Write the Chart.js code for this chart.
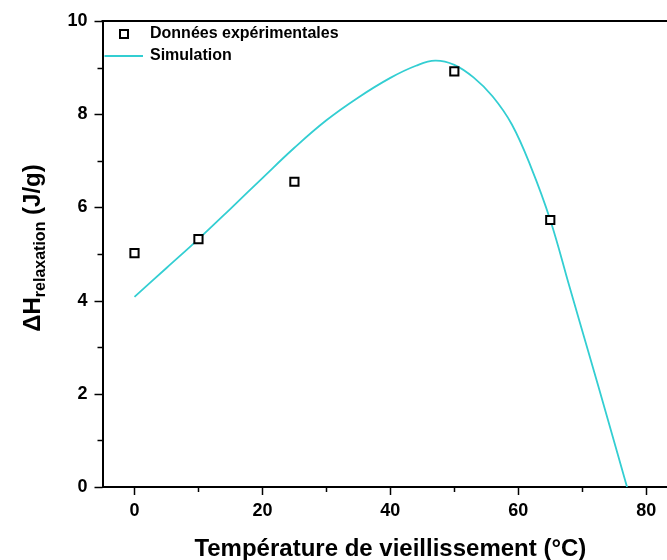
<!DOCTYPE html>
<html>
<head>
<meta charset="utf-8">
<script src="https://cdn.jsdelivr.net/npm/chart.js@4"></script>
<style>
  html, body { margin: 0; padding: 0; background: #fff; overflow: hidden; }
  #wrap { width: 686px; height: 560px; }
</style>
</head>
<body>
<div id="wrap"><canvas id="chart" width="686" height="560"></canvas></div>
<script>
// Données expérimentales
const expT = [0, 10, 25, 50, 65];
const expH = [5.02, 5.32, 6.55, 8.92, 5.73];

// Courbe de simulation
const simT = [0, 5, 10, 15, 20, 25, 30, 35, 40, 44, 47, 50, 53, 56, 59, 62, 65, 68, 71, 74, 77];
const simH = [4.08, 4.70, 5.32, 5.97, 6.63, 7.28, 7.87, 8.36, 8.78, 9.04, 9.15, 9.06, 8.79, 8.38, 7.78, 6.86, 5.73, 4.30, 2.88, 1.45, 0];

const xTicks = [0, 20, 40, 60, 80];
const yTicks = [0, 2, 4, 6, 8, 10];

const cyan = 'rgb(51, 206, 210)';
const fontFam = '"Liberation Sans", Arial, sans-serif';

const toPoints = (xs, ys) => xs.map((x, i) => ({ x: x, y: ys[i] }));

// petits traits de graduation, ligne du haut, légende et titre de l'axe y
const decor = {
  id: 'decor',
  afterDraw(chart) {
    const ctx = chart.ctx;
    const a = chart.chartArea;
    const xs = chart.scales.x, ys = chart.scales.y;
    ctx.save();
    ctx.strokeStyle = '#000';
    ctx.lineWidth = 2;
    // ligne du haut
    ctx.beginPath();
    ctx.moveTo(a.left - 1, a.top);
    ctx.lineTo(a.right + 2, a.top);
    ctx.stroke();
    // graduations x
    ctx.lineWidth = 1.5;
    for (let v = 0; v <= 80; v += 10) {
      const px = Math.round(xs.getPixelForValue(v)) + 0.5;
      const len = v % 20 === 0 ? 8 : 5;
      ctx.beginPath();
      ctx.moveTo(px, a.bottom);
      ctx.lineTo(px, a.bottom + len);
      ctx.stroke();
    }
    // graduations y
    for (let v = 0; v <= 10; v += 1) {
      const py = Math.round(ys.getPixelForValue(v)) + 0.5;
      const len = v % 2 === 0 ? 8 : 5;
      ctx.beginPath();
      ctx.moveTo(a.left, py);
      ctx.lineTo(a.left - len, py);
      ctx.stroke();
    }

    // légende
    const ds = chart.data.datasets;
    ctx.font = 'bold 16px ' + fontFam;
    ctx.textBaseline = 'middle';
    ctx.textAlign = 'left';
    ctx.lineWidth = 2;
    ctx.strokeStyle = '#000';
    ctx.fillStyle = '#fff';
    ctx.fillRect(120, 30, 8, 8);
    ctx.strokeRect(120, 30, 8, 8);
    ctx.fillStyle = '#000';
    ctx.fillText(ds[0].label, 150, 34);
    ctx.strokeStyle = ds[1].borderColor;
    ctx.lineWidth = 1.8;
    ctx.beginPath();
    ctx.moveTo(a.left + 2, 56);
    ctx.lineTo(143, 56);
    ctx.stroke();
    ctx.fillText(ds[1].label, 150, 56);

    // titre de l'axe y avec indice
    const big = 'bold 24px ' + fontFam;
    const small = 'bold 16px ' + fontFam;
    const p1 = '\u0394H', p2 = 'relaxation', p3 = ' (J/g)';
    ctx.font = big; const w1 = ctx.measureText(p1).width, w3 = ctx.measureText(p3).width;
    ctx.font = small; const w2 = ctx.measureText(p2).width;
    const total = w1 + w2 + w3;
    ctx.translate(40, 248);
    ctx.rotate(-Math.PI / 2);
    ctx.textBaseline = 'alphabetic';
    let cx = -total / 2;
    ctx.font = big; ctx.fillText(p1, cx, 0); cx += w1;
    ctx.font = small; ctx.fillText(p2, cx, 5); cx += w2;
    ctx.font = big; ctx.fillText(p3, cx, 0);
    ctx.restore();
  }
};

new Chart(document.getElementById('chart'), {
  type: 'scatter',
  data: {
    datasets: [{
      label: 'Données expérimentales',
      data: toPoints(expT, expH),
      pointStyle: 'rect',
      pointRadius: 5.8,
      pointHoverRadius: 5.8,
      borderColor: '#000',
      backgroundColor: '#fff',
      borderWidth: 2,
      showLine: false
    }, {
      label: 'Simulation',
      data: toPoints(simT, simH),
      showLine: true,
      borderColor: cyan,
      backgroundColor: cyan,
      borderWidth: 1.8,
      pointRadius: 0,
      tension: 0.4
    }]
  },
  options: {
    responsive: false,
    animation: false,
    layout: { padding: { left: 0, top: 21, right: 3, bottom: 0 } },
    plugins: { legend: { display: false }, tooltip: { enabled: false } },
    scales: {
      x: {
        type: 'linear',
        min: -5,
        max: 85,
        afterBuildTicks: s => { s.ticks = xTicks.map(v => ({ value: v })); },
        afterFit: s => { s.height = 73; s.paddingLeft = 0; s.paddingRight = 0; },
        border: { color: '#000', width: 2 },
        grid: { drawOnChartArea: false, drawTicks: false },
        ticks: { color: '#000', padding: 13, font: { family: fontFam, size: 18, weight: 'bold' } },
        title: {
          display: true,
          text: 'Température de vieillissement (°C)',
          color: '#000',
          padding: { top: 0, bottom: -4 },
          font: { family: fontFam, size: 24, weight: 'bold' }
        }
      },
      y: {
        min: 0,
        max: 10,
        afterBuildTicks: s => { s.ticks = yTicks.map(v => ({ value: v })); },
        afterFit: s => { s.width = 102.5; s.paddingTop = 0; s.paddingBottom = 0; },
        border: { color: '#000', width: 2 },
        grid: { drawOnChartArea: false, drawTicks: false },
        ticks: { color: '#000', padding: 15, font: { family: fontFam, size: 18, weight: 'bold' } }
      }
    }
  },
  plugins: [decor]
});
</script>
</body>
</html>
